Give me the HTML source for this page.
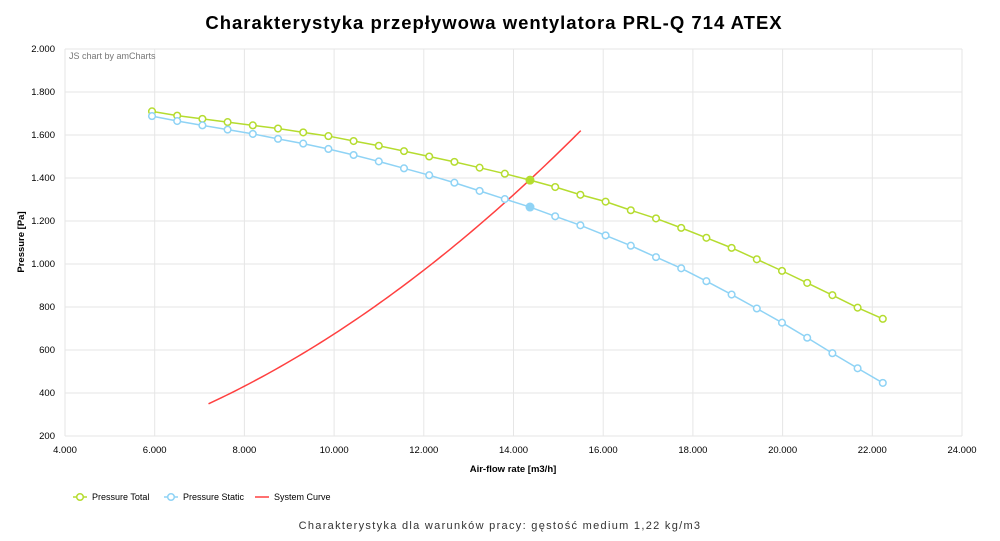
<!DOCTYPE html>
<html><head><meta charset="utf-8"><style>
html,body{margin:0;padding:0;background:#fff;}
svg{display:block;font-family:"Liberation Sans",Verdana,sans-serif;}
</style></head><body>
<svg id="s" width="1000" height="541" xmlns="http://www.w3.org/2000/svg">
<text x="494" y="29" text-anchor="middle" font-size="18.5" font-weight="bold" letter-spacing="1" fill="#000">Charakterystyka przepływowa wentylatora PRL-Q 714 ATEX</text>
<g id="grid" stroke="#e6e6e6" stroke-width="1"></g>
<text x="69" y="59" font-size="9" fill="#777">JS chart by amCharts</text>
<g id="lab" font-size="9.5" fill="#000"></g>
<text x="513" y="472" text-anchor="middle" font-size="9.5" font-weight="bold">Air-flow rate [m3/h]</text>
<text transform="translate(24,242) rotate(-90)" text-anchor="middle" font-size="9.5" font-weight="bold">Pressure [Pa]</text>
<g id="ser"></g>
<g font-size="9" fill="#000">
<line x1="73" y1="497" x2="87" y2="497" stroke="#b5dc2f" stroke-width="1.5"/><circle cx="80" cy="497" r="3.3" fill="#fff" stroke="#b5dc2f" stroke-width="1.5"/><text x="92" y="500">Pressure Total</text>
<line x1="164" y1="497" x2="178" y2="497" stroke="#8fd3f5" stroke-width="1.5"/><circle cx="171" cy="497" r="3.3" fill="#fff" stroke="#8fd3f5" stroke-width="1.5"/><text x="183" y="500">Pressure Static</text>
<line x1="255" y1="497" x2="269" y2="497" stroke="#ff4040" stroke-width="1.5"/><text x="274" y="500">System Curve</text>
</g>
<text x="500" y="529" text-anchor="middle" font-size="11" letter-spacing="1.3" fill="#333">Charakterystyka dla warunków pracy: gęstość medium 1,22 kg/m3</text>
</svg>
<script>
var NS="http://www.w3.org/2000/svg";
function el(p,t,a){var e=document.createElementNS(NS,t);for(var k in a)e.setAttribute(k,a[k]);p.appendChild(e);return e;}
function X(q){return 65+(q-4000)*0.04485;}
function Y(p){return 49+(2000-p)*0.215;}
var g=document.getElementById('grid'),l=document.getElementById('lab'),s=document.getElementById('ser');
function fmt(v){return v>=1000?Math.floor(v/1000)+"."+String(v%1000).padStart(3,"0"):String(v);}
for(var q=4000;q<=24000;q+=2000){el(g,'line',{x1:X(q),x2:X(q),y1:49,y2:436});var t=el(l,'text',{x:X(q),y:453,'text-anchor':'middle'});t.textContent=fmt(q);}
for(var p=200;p<=2000;p+=200){el(g,'line',{x1:65,x2:962,y1:Y(p),y2:Y(p)});var t=el(l,'text',{x:55,y:Y(p)+3,'text-anchor':'end'});t.textContent=fmt(p);}
var T=[1710,1690,1675,1660,1645,1630,1612,1595,1572,1550,1525,1500,1475,1448,1420,1390,1358,1322,1290,1250,1212,1168,1122,1075,1022,968,912,855,797,745];
var S=[1688,1665,1645,1625,1605,1582,1560,1535,1507,1477,1445,1413,1378,1340,1302,1265,1222,1180,1133,1085,1032,980,920,858,793,727,657,585,515,447];
function series(d,c){var pts=d.map(function(v,i){return [152+i*25.2,Y(v)];});
el(s,'polyline',{points:pts.map(function(p){return p.join(',')}).join(' '),fill:'none',stroke:c,'stroke-width':1.5});
pts.forEach(function(p,i){if(i==15)el(s,'circle',{cx:p[0],cy:p[1],r:4.5,fill:c});else el(s,'circle',{cx:p[0],cy:p[1],r:3.3,fill:'#fff',stroke:c,'stroke-width':1.5});});}
var sc=[];for(var q=7200;q<=15500;q+=100)sc.push(X(q)+','+Y(6.745e-6*q*q));
el(s,'polyline',{points:sc.join(' '),fill:'none',stroke:'#ff4040','stroke-width':1.5});
series(T,'#b5dc2f');series(S,'#8fd3f5');
</script>
</body></html>
